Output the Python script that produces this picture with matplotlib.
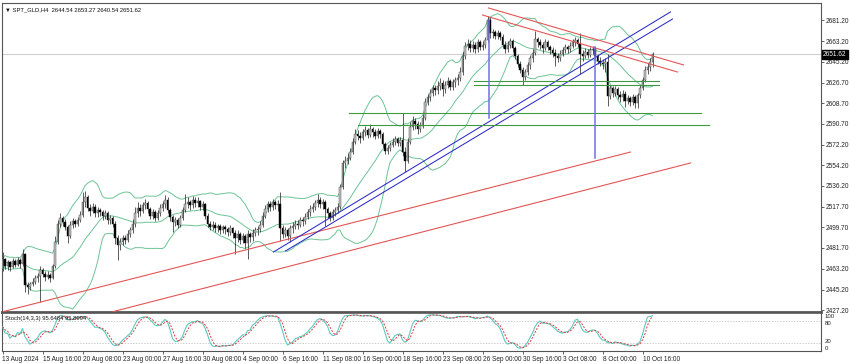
import numpy as np
import pandas as pd
import matplotlib
matplotlib.use("Agg")
import matplotlib.pyplot as plt

# ---------------- data ----------------
symbol_text = "\u25bc SPT_GLD,H4  2644.54 2653.27 2640.54 2651.62"
stoch_text = "Stoch(14,3,3) 95.6484 95.8994"
current_price = 2651.62
first_open = 2463.0

closes = [
    2472, 2466, 2469, 2465, 2470, 2467, 2471, 2468, 2476, 2449,
    2447, 2450, 2452, 2455, 2457, 2462, 2459, 2456, 2458, 2455,
    2466, 2487, 2503, 2508, 2504, 2500, 2492, 2502, 2505, 2503,
    2506, 2511, 2522, 2526, 2517, 2514, 2518, 2512, 2515, 2513,
    2510, 2512, 2506, 2508, 2503, 2490, 2484, 2487, 2490, 2489,
    2494, 2497, 2503, 2512, 2517, 2514, 2519, 2521, 2516, 2510,
    2513, 2508, 2512, 2517, 2520, 2524, 2515, 2509, 2504, 2506,
    2502, 2508, 2515, 2520, 2522, 2519, 2524, 2521, 2523, 2518,
    2520, 2510, 2503, 2500, 2502, 2499, 2501, 2497, 2500, 2498,
    2496, 2499, 2495, 2490, 2494, 2489, 2492, 2486, 2494, 2491,
    2495, 2497, 2498, 2502, 2510, 2516, 2520, 2518, 2522, 2519,
    2520, 2499, 2494, 2497, 2492, 2499, 2501, 2503, 2502, 2506,
    2505, 2509, 2513, 2516, 2518, 2521, 2524, 2520, 2522, 2516,
    2512, 2508, 2513, 2515, 2518, 2535, 2556, 2558, 2561, 2566,
    2575, 2582, 2580, 2578, 2583, 2585, 2581, 2586, 2583, 2580,
    2584, 2582, 2573, 2567, 2569, 2572, 2575, 2577, 2574, 2576,
    2566, 2558, 2575, 2588, 2593, 2590, 2586, 2589, 2596, 2610,
    2614, 2618, 2622, 2620, 2624, 2626, 2621, 2625, 2628, 2623,
    2627, 2629, 2631, 2636, 2650, 2659, 2661, 2657, 2660, 2656,
    2662, 2658, 2660, 2664, 2682, 2670, 2671, 2668, 2670, 2667,
    2660, 2656, 2660, 2663, 2657, 2650, 2643, 2638, 2632, 2636,
    2642, 2648, 2653, 2665, 2662, 2660, 2657, 2662, 2658, 2655,
    2653, 2650, 2648, 2652, 2655, 2658, 2656, 2659, 2662, 2664,
    2661, 2652, 2650, 2654, 2651, 2655, 2656, 2650, 2646, 2644,
    2643, 2645, 2615, 2622, 2618, 2621, 2616, 2614, 2617, 2611,
    2613, 2610, 2614, 2609, 2616, 2622, 2629, 2638, 2640, 2644.54,
    2651.62,
]
highs = [
    2478, 2473, 2471, 2470, 2473, 2472, 2474, 2473, 2481, 2477,
    2452, 2452, 2455, 2458, 2460, 2466, 2464, 2461, 2461, 2460,
    2468, 2492, 2506, 2512, 2510, 2507, 2502, 2505, 2508, 2507,
    2509, 2514, 2531, 2532, 2528, 2520, 2521, 2520, 2518, 2517,
    2515, 2515, 2514, 2511, 2510, 2505, 2493, 2490, 2493, 2493,
    2497, 2500, 2507, 2518, 2522, 2520, 2522, 2525, 2523, 2518,
    2516, 2515, 2515, 2520, 2523, 2528, 2526, 2517, 2511, 2509,
    2508, 2511, 2518, 2529, 2526, 2524, 2527, 2526, 2526, 2524,
    2523, 2521, 2512, 2505, 2505, 2504, 2503, 2503, 2502, 2502,
    2500, 2502, 2500, 2497, 2497, 2496, 2495, 2494, 2497, 2496,
    2498, 2500, 2501, 2505, 2513, 2519, 2523, 2523, 2525, 2524,
    2524, 2531, 2502, 2500, 2499, 2502, 2504, 2506, 2506, 2509,
    2509, 2512, 2516, 2519, 2521, 2524, 2529, 2526, 2525, 2524,
    2518, 2514, 2516, 2518, 2521, 2538, 2559, 2562, 2565, 2569,
    2578, 2586, 2585, 2583, 2586, 2589, 2587, 2590, 2588, 2586,
    2587, 2586, 2583, 2575, 2572, 2575, 2578, 2580, 2579, 2579,
    2600, 2570, 2578, 2592, 2597, 2596, 2593, 2592, 2599, 2613,
    2617, 2621, 2625, 2625, 2628, 2631, 2629, 2628, 2632, 2630,
    2630, 2632, 2634, 2640, 2654, 2662, 2665, 2664, 2663, 2662,
    2665, 2664, 2663, 2667, 2685, 2684, 2674, 2673, 2673, 2672,
    2669, 2663, 2663, 2666, 2665, 2659, 2652, 2646, 2640, 2639,
    2645, 2651, 2656, 2672, 2667, 2665, 2662, 2665, 2664, 2660,
    2658, 2656, 2653, 2655, 2658, 2661, 2660, 2662, 2665, 2667,
    2666, 2670, 2655, 2657, 2656, 2658, 2659, 2658, 2652, 2649,
    2647, 2648, 2652, 2625, 2624, 2624, 2623, 2619, 2620, 2619,
    2616, 2615, 2617, 2616, 2618, 2625, 2632, 2641, 2644, 2648,
    2653.27,
]
lows = [
    2461, 2463, 2462, 2461, 2464, 2465, 2466, 2464, 2466, 2443,
    2441, 2445, 2448, 2450, 2452, 2434, 2456, 2453, 2454, 2452,
    2454, 2464, 2485, 2500, 2501, 2497, 2486, 2490, 2499, 2500,
    2501, 2504, 2509, 2518, 2514, 2510, 2512, 2509, 2509, 2510,
    2506, 2507, 2503, 2503, 2500, 2485, 2471, 2480, 2484, 2485,
    2487, 2491, 2495, 2500, 2509, 2510, 2512, 2516, 2512, 2507,
    2507, 2505, 2506, 2510, 2514, 2517, 2512, 2505, 2496, 2501,
    2499, 2500, 2506, 2513, 2517, 2515, 2517, 2518, 2518, 2515,
    2515, 2507, 2500, 2497, 2497, 2496, 2496, 2494, 2495, 2494,
    2492, 2493, 2490, 2476, 2487, 2485, 2486, 2482, 2472, 2487,
    2488, 2492, 2493, 2496, 2500, 2508, 2513, 2514, 2515, 2516,
    2514, 2488, 2490, 2491, 2489, 2487, 2495, 2498, 2498, 2500,
    2501, 2503, 2507, 2510, 2513, 2515, 2518, 2517, 2516, 2501,
    2508, 2505, 2506, 2510, 2512, 2516, 2533, 2552, 2555, 2559,
    2564, 2573, 2576, 2574, 2576, 2580, 2578, 2579, 2579, 2577,
    2578, 2578, 2570, 2564, 2564, 2567, 2570, 2572, 2571, 2571,
    2562, 2548, 2556, 2573, 2585, 2586, 2582, 2583, 2587, 2594,
    2607, 2611, 2615, 2616, 2617, 2620, 2615, 2618, 2622, 2620,
    2620, 2623, 2625, 2628, 2633, 2647, 2655, 2654, 2654, 2653,
    2654, 2655, 2655, 2657, 2662, 2666, 2666, 2665, 2665, 2664,
    2657, 2653, 2654, 2657, 2654, 2647, 2640, 2635, 2625, 2629,
    2633, 2639, 2645, 2651, 2658, 2656, 2653, 2655, 2655, 2652,
    2649, 2641, 2645, 2646, 2650, 2653, 2653, 2654, 2657, 2659,
    2658, 2634, 2646, 2648, 2648, 2649, 2652, 2647, 2643, 2641,
    2639, 2636, 2606, 2612, 2614, 2615, 2612, 2610, 2611, 2605,
    2608, 2606, 2607, 2604, 2604, 2613, 2620, 2627, 2634, 2637,
    2640.54,
]

price_ticks = [2681.20, 2663.20, 2645.20, 2626.70, 2608.70, 2590.70, 2572.20,
               2554.20, 2536.20, 2517.70, 2499.70, 2481.70, 2463.20, 2445.20, 2427.20]
time_label_bars = [0, 16, 32, 48, 64, 80, 96, 112, 128, 144, 160, 176, 192, 208, 224, 240, 256]
time_labels = ["13 Aug 2024", "15 Aug 16:00", "20 Aug 08:00", "23 Aug 00:00", "27 Aug 16:00",
               "30 Aug 08:00", "4 Sep 00:00", "6 Sep 16:00", "11 Sep 08:00", "16 Sep 00:00",
               "18 Sep 16:00", "23 Sep 08:00", "26 Sep 00:00", "30 Sep 16:00", "3 Oct 08:00",
               "8 Oct 00:00", "10 Oct 16:00"]

# drawn chart objects: (bar index, price) anchors
red_rising_lines = [[(0.4, 2425.9), (251.2, 2565.8)], [(44.4, 2425.9), (275.2, 2556.2)]]
blue_rising_lines = [[(108.4, 2478.1), (267.2, 2688.7)], [(113.2, 2479.0), (268.0, 2682.5)]]
red_falling_lines = [[(194.4, 2692.2), (272.4, 2642.2)], [(192.0, 2686.0), (270.0, 2636.0)]]
green_levels = [(2628.1, 188.4, 262.4), (2624.6, 188.4, 262.4),
                (2600.0, 138.4, 279.2), (2589.5, 142.0, 282.4)]
blue_verticals = [(194.4, 2681.6, 2595.7), (236.8, 2657.9, 2560.6)]

# ---------------- figure ----------------
plt.rcParams['font.family'] = ['Liberation Sans', 'DejaVu Sans']
FS = 4.7
FS_T = 4.2
W, H = 850, 364
fig = plt.figure(figsize=(W / 100, H / 100), dpi=100)
fig.patch.set_facecolor('white')

def rect(left, top, right, bottom):
    return [left / W, 1 - bottom / H, (right - left) / W, (bottom - top) / H]

ax = fig.add_axes(rect(2, 3, 821, 312.3))
axs = fig.add_axes(rect(2, 313.3, 821, 350.8))

n = len(closes)
idx = np.arange(n)
c = np.array(closes, dtype=float)
o = np.concatenate([[first_open], c[:-1]])
h = np.maximum(np.array(highs, dtype=float), np.maximum(o, c))
l = np.minimum(np.array(lows, dtype=float), np.minimum(o, c))

xlim = (-0.2, 327.4)

# Bollinger bands (20, 2)
s = pd.Series(c)
mid = s.rolling(20, min_periods=1).mean()
sd = s.rolling(20, min_periods=1).std(ddof=0)
bb_col = '#6cc495'
for line in (mid, mid + 2 * sd, mid - 2 * sd):
    ax.plot(idx, line, color=bb_col, lw=0.7, zorder=2)

# current price line
ax.axhline(current_price, color='#cfcfcf', lw=0.8, zorder=1)

# candles
up = c >= o
ax.vlines(idx, l, h, color='#1a1a1a', lw=0.5, zorder=3)
body_lo = np.minimum(o, c)
body_h = np.maximum(np.abs(c - o), 0.4)
ax.bar(idx[up], body_h[up], bottom=body_lo[up], width=0.62, color='#c4c4c4',
       edgecolor='#3a3a3a', linewidth=0.3, zorder=4)
ax.bar(idx[~up], body_h[~up], bottom=body_lo[~up], width=0.62, color='black',
       edgecolor='black', linewidth=0.3, zorder=4)

# objects
for (p1, p2) in red_rising_lines:
    ax.plot([p1[0], p2[0]], [p1[1], p2[1]], color='#e25656', lw=0.8, zorder=5)
for (p1, p2) in blue_rising_lines:
    ax.plot([p1[0], p2[0]], [p1[1], p2[1]], color='#2b2bc8', lw=0.75, zorder=5)
for (p1, p2) in red_falling_lines:
    ax.plot([p1[0], p2[0]], [p1[1], p2[1]], color='#e25656', lw=0.8, zorder=5)
for (lvl, x0, x1) in green_levels:
    ax.plot([x0, x1], [lvl, lvl], color='#3f9a3f', lw=0.8, zorder=5)
for (xb, y0, y1) in blue_verticals:
    ax.plot([xb, xb], [y0, y1], color='#7070e6', lw=1.1, zorder=5)

ax.set_xlim(*xlim)
ax.set_ylim(2425.2, 2696.55)
ax.set_xticks([])
ax.yaxis.tick_right()
ax.set_yticks(price_ticks)
ax.set_yticklabels([f"{p:.2f}" for p in price_ticks])
ax.tick_params(axis='y', right=True, left=False, labelright=True, labelleft=False,
               length=2, width=0.5, pad=1.2, labelsize=FS, colors='#222222')
for side in ('top', 'left', 'right'):
    ax.spines[side].set_color('#555555')
    ax.spines[side].set_linewidth(0.8)
ax.spines['bottom'].set_color('#555555')
ax.spines['bottom'].set_linewidth(2.0)

ax.text(0.004, 0.985, symbol_text, transform=ax.transAxes, fontsize=FS_T,
        ha='left', va='top', color='#111111')
ax.annotate(f"{current_price:.2f}", xy=(1.0, current_price),
            xycoords=('axes fraction', 'data'), xytext=(1.5, 0),
            textcoords='offset points', fontsize=FS, color='white', ha='left', va='center',
            bbox=dict(boxstyle='square,pad=0.15', fc='black', ec='black'), zorder=10,
            annotation_clip=False)

# Stochastic (14,3,3)
hs = pd.Series(h)
ls = pd.Series(l)
ll = ls.rolling(14, min_periods=1).min()
hh = hs.rolling(14, min_periods=1).max()
num = (s - ll).rolling(3, min_periods=1).sum()
den = (hh - ll).rolling(3, min_periods=1).sum()
k = 100 * num / den
d = k.rolling(3, min_periods=1).mean()
axs.plot(idx, k, color='#5cc9c3', lw=0.8, zorder=3)
axs.plot(idx, d, color='#e03a3a', lw=0.7, ls=(0, (2, 1.5)), zorder=3)
for lvl in (20, 80):
    axs.axhline(lvl, color='#b8b8b8', lw=0.5, ls=(0, (2, 2)), zorder=1)
axs.set_xlim(*xlim)
axs.set_ylim(0, 100)
axs.text(0.004, 0.93, stoch_text, transform=axs.transAxes, fontsize=FS_T,
         ha='left', va='top', color='#111111', zorder=6)
axs.set_yticks([])
for val, va, dy in ((100, 'top', -0.6), (80, 'center', -1.6), (20, 'center', 1.0), (0, 'bottom', -0.5)):
    axs.annotate(str(val), xy=(1.0, val), xycoords=('axes fraction', 'data'),
                 xytext=(2.5, dy), textcoords='offset points', fontsize=FS - 0.4,
                 ha='left', va=va, color='#222222', annotation_clip=False)
axs.set_xticks(time_label_bars)
axs.set_xticklabels(time_labels)
for lab in axs.get_xticklabels():
    lab.set_horizontalalignment('left')
axs.tick_params(axis='x', length=2.5, width=0.5, pad=1.5, labelsize=FS, colors='#222222')
for side in ('bottom', 'left', 'right'):
    axs.spines[side].set_color('#555555')
    axs.spines[side].set_linewidth(0.8)
axs.spines['top'].set_color('#555555')
axs.spines['top'].set_linewidth(1.2)

fig.savefig('out.png', dpi=100, facecolor='white')
